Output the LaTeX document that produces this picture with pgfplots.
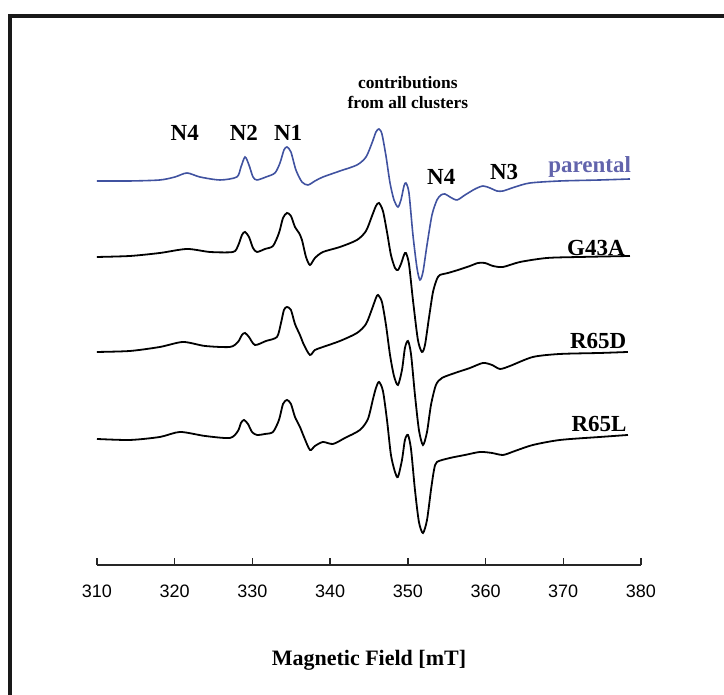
\documentclass[border=0pt]{standalone}
\usepackage{fontspec}
\setmainfont{Liberation Serif}
\newfontfamily\arial{Liberation Sans}
\usepackage{pgfplots}
\pgfplotsset{compat=1.18}
\definecolor{parline}{RGB}{64,82,160}
\definecolor{partext}{RGB}{98,100,172}

% spectra: x in mT, y = offset position on the page (arbitrary units)
\pgfplotstableread{
x y
310.00 -181
314.25 -181
318.10 -180
320.03 -177
321.58 -173
323.25 -177
325.83 -180
328.00 -177
328.53 -167
329.05 -157
329.56 -165
330.08 -177
330.59 -180
331.75 -177
332.90 -173
333.55 -163
334.06 -150
334.45 -147
334.96 -152
335.60 -170
336.38 -182
337.15 -185
338.05 -181
339.08 -177
341.27 -171
343.46 -165
344.62 -157
345.39 -143
345.90 -132
346.29 -129
346.67 -134
347.19 -156
347.71 -183
348.22 -200
348.73 -207
349.12 -200
349.51 -186
349.76 -183
350.15 -193
350.66 -235
351.18 -268
351.56 -280
351.95 -272
352.47 -245
353.11 -215
353.75 -200
354.27 -195
354.78 -194
355.43 -197
356.33 -200
357.36 -195
358.65 -189
359.67 -186
360.57 -188
361.47 -191
362.25 -191
363.79 -187
365.72 -183
369.58 -181
374.73 -180
378.59 -179
}\parental

\pgfplotstableread{
x y
310.00 -257
314.25 -256
318.10 -253
321.58 -249
324.54 -252
327.50 -252
328.14 -246
328.66 -235
329.05 -232
329.56 -237
330.08 -248
330.59 -252
331.62 -249
332.65 -246
333.42 -233
333.94 -218
334.45 -213
334.96 -216
335.48 -227
336.00 -233
336.38 -240
336.90 -257
337.41 -265
338.05 -258
339.08 -252
341.27 -247
343.46 -240
344.62 -231
345.39 -216
345.90 -206
346.29 -203
346.80 -211
347.32 -232
347.83 -255
348.35 -268
348.73 -270
349.12 -264
349.51 -255
349.76 -253
350.15 -264
350.66 -300
351.30 -340
351.82 -352
352.21 -345
352.72 -318
353.24 -292
353.75 -279
354.14 -275
355.17 -273
356.46 -270
358.00 -266
359.03 -263
359.93 -263
360.96 -266
362.25 -267
364.44 -262
367.91 -258
372.16 -257
378.59 -256
}\gfourthree

\pgfplotstableread{
x y
310.00 -352
314.25 -351
318.10 -347
321.07 -342
323.90 -346
327.11 -347
328.14 -342
328.66 -335
329.05 -333
329.56 -337
330.33 -345
331.75 -341
333.16 -337
333.68 -323
334.06 -310
334.45 -307
334.96 -310
335.48 -324
336.12 -335
336.64 -345
337.41 -355
338.05 -350
339.08 -347
341.27 -341
343.46 -333
344.62 -324
345.39 -309
345.90 -298
346.16 -295
346.67 -302
347.19 -325
347.71 -355
348.22 -376
348.73 -385
349.25 -370
349.63 -348
350.02 -341
350.41 -354
350.92 -395
351.43 -430
351.95 -445
352.47 -432
352.98 -405
353.62 -385
354.40 -378
356.07 -373
358.00 -368
359.67 -363
360.83 -365
361.86 -369
363.15 -366
366.10 -357
369.58 -354
374.73 -353
378.33 -352
}\rsixfived

\pgfplotstableread{
x y
310.00 -439
314.25 -440
318.10 -437
320.68 -432
323.90 -436
327.11 -438
328.14 -431
328.53 -423
328.92 -420
329.43 -424
329.95 -432
330.59 -435
331.62 -434
332.65 -432
333.42 -420
333.94 -404
334.45 -400
334.96 -404
335.48 -417
336.12 -427
336.64 -437
337.41 -450
338.05 -446
339.08 -442
340.37 -444
341.91 -438
343.84 -430
344.87 -419
345.52 -399
345.90 -388
346.29 -382
346.80 -391
347.32 -420
347.83 -455
348.35 -472
348.73 -477
349.25 -460
349.63 -440
350.02 -435
350.41 -449
350.92 -490
351.43 -522
351.95 -533
352.47 -520
352.98 -490
353.37 -470
353.75 -462
355.43 -458
357.36 -455
359.29 -452
360.83 -453
362.25 -455
363.79 -451
366.10 -445
369.58 -440
374.73 -437
378.33 -435
}\rsixfivel

\begin{document}
\begin{tikzpicture}[lab/.style={font=\bfseries\fontsize{11.5}{13}\selectfont}]
\begin{axis}[
    x=3.8857pt, y=0.5pt,
    xmin=310, xmax=380,
    ymin=-565, ymax=-20,
    axis x line=bottom,
    axis y line=none,
    axis line style={line width=0.8pt, draw=black!85, -},
    xtick={310,320,...,380},
    tick align=inside,
    major tick length=3.5pt,
    tick style={line width=0.7pt, black!85},
    xticklabel style={font=\arial\fontsize{9}{10}\selectfont, yshift=-6.5pt},
    /pgf/number format/assume math mode=true,
    /pgf/number format/1000 sep={},
    xlabel={\bfseries Magnetic Field [mT]},
    xlabel style={font=\bfseries\fontsize{11}{13}\selectfont, yshift=-19.5pt},
    clip=false,
]
\addplot[parline, line width=0.8pt, smooth, tension=0.45] table {\parental};
\addplot[black, line width=0.9pt, smooth, tension=0.45] table {\gfourthree};
\addplot[black, line width=0.9pt, smooth, tension=0.45] table {\rsixfived};
\addplot[black, line width=0.9pt, smooth, tension=0.45] table {\rsixfivel};

\node[lab] at (axis cs:321.3,-133) {N4};
\node[lab] at (axis cs:328.9,-133) {N2};
\node[lab] at (axis cs:334.6,-133) {N1};
\node[lab] at (axis cs:354.3,-177) {N4};
\node[lab] at (axis cs:362.4,-172) {N3};
\node[lab, text=partext] at (axis cs:373.4,-167) {parental};
\node[lab] at (axis cs:374.2,-248) {G43A};
\node[lab] at (axis cs:374.5,-341) {R65D};
\node[lab] at (axis cs:374.6,-424) {R65L};
\node[align=center, font=\bfseries\fontsize{8.7}{10}\selectfont] at (axis cs:350.0,-93) {contributions\\from all clusters};

\draw[line width=1.6pt, black!90] (axis cs:298.80,-695) -- (axis cs:298.80,-16) -- (axis cs:390.69,-16);
\coordinate (bl) at (axis cs:297.52,-695);
\coordinate (tr) at (axis cs:390.69,0);
\end{axis}
\pgfresetboundingbox
\path[use as bounding box] (bl) rectangle (tr);
\end{tikzpicture}
\end{document}
